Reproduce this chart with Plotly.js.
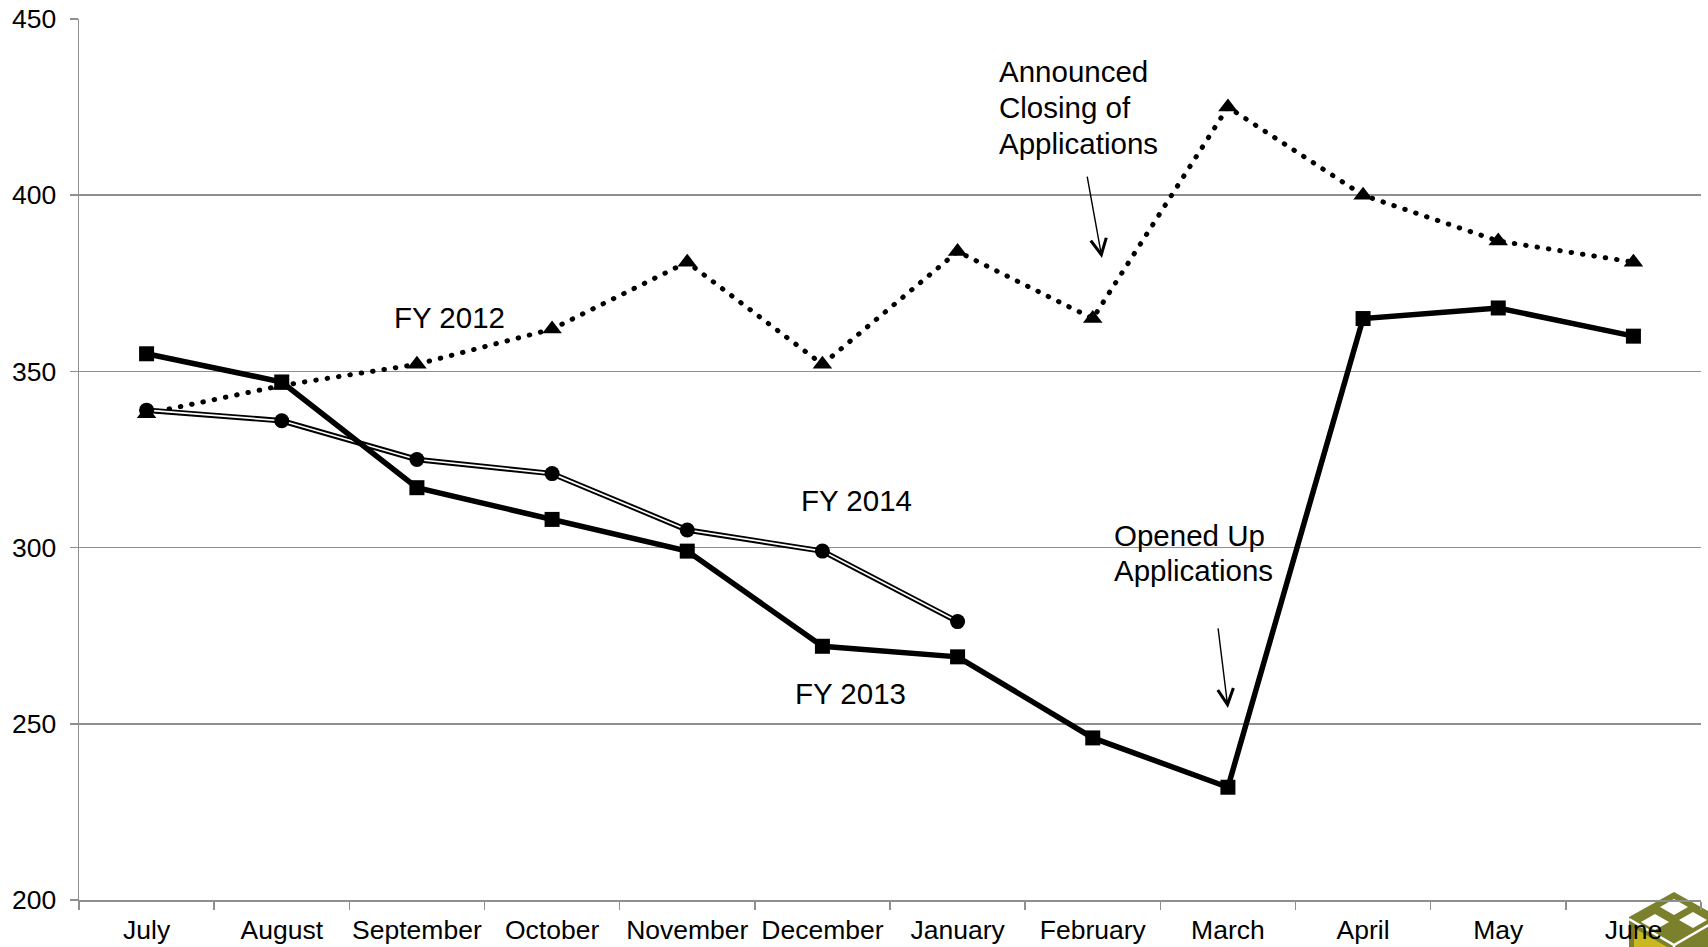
<!DOCTYPE html>
<html>
<head>
<meta charset="utf-8">
<script src="https://cdn.plot.ly/plotly-3.0.1.min.js"></script>
<style>
html,body{margin:0;padding:0;background:#fff;}
#chart{width:1708px;height:947px;}
</style>
</head>
<body>
<div id="chart"></div>
<script>
const months = ["July","August","September","October","November","December","January","February","March","April","May","June"];
const fy2012 = [338, 346, 352, 362, 381, 352, 384, 365, 425, 400, 387, 381];
const fy2013 = [355, 347, 317, 308, 299, 272, 269, 246, 232, 365, 368, 360];
const fy2014 = [339, 336, 325, 321, 305, 299, 279];
const fy2014Months = months.slice(0, fy2014.length);
const yTicks = [200, 250, 300, 350, 400, 450];
const closingNote = ["Announced", "Closing of", "Applications"];
const openedNote = ["Opened Up", "Applications"];

const FONT = "Liberation Sans, Arial, Helvetica, sans-serif";
const GRID = "#8f8f8f";

const traces = [
  {
    name: "FY 2012", x: months, y: fy2012, type: "scatter", mode: "lines+markers",
    line: {color: "#000", width: 5, dash: "0.5px,11px"},
    marker: {symbol: "triangle-up", size: 17, color: "#000"},
    showlegend: false, hoverinfo: "x+y"
  },
  {
    name: "FY 2014 outline", x: fy2014Months, y: fy2014, type: "scatter", mode: "lines",
    line: {color: "#000", width: 5.5},
    showlegend: false, hoverinfo: "skip"
  },
  {
    name: "FY 2014", x: fy2014Months, y: fy2014, type: "scatter", mode: "lines+markers",
    line: {color: "#fff", width: 1.7},
    marker: {symbol: "circle", size: 15, color: "#000"},
    showlegend: false, hoverinfo: "x+y"
  },
  {
    name: "FY 2013", x: months, y: fy2013, type: "scatter", mode: "lines+markers",
    line: {color: "#000", width: 5.5},
    marker: {symbol: "square", size: 15, color: "#000"},
    showlegend: false, hoverinfo: "x+y"
  }
];

const logoSvg =
  '<svg xmlns="http://www.w3.org/2000/svg" width="92" height="110" viewBox="0 0 92 110">' +
  '<polygon points="46,4 91,29 91,80 46,106 1,80 1,29" fill="#7b802c"/>' +
  '<polygon points="6,40 41,60 41,100 6,80" fill="#c9b81f"/>' +
  '<polyline points="1,31 46,57 91,31" fill="none" stroke="#fff" stroke-width="2.5"/>' +
  '<line x1="46" y1="57" x2="46" y2="106" stroke="#fff" stroke-width="2.5"/>' +
  '<polygon points="46,11 60,19 46,27 32,19" fill="#fff"/>' +
  '<polygon points="27,26 41,34 27,42 13,34" fill="#fff"/>' +
  '<polygon points="65,24 79,32 65,40 51,32" fill="#fff"/>' +
  '</svg>';

const annoFont = {family: FONT, size: 29.5, color: "#000"};

function leftNote(text, x, y) {
  return {text: text, x: x, y: y, xref: "x", yref: "y", xanchor: "left", align: "left",
          showarrow: false, font: annoFont};
}

const closingY = [435.0, 425.0, 414.8];
const openedY = [303.3, 293.4];

const annotations = [
  {text: "FY 2012", x: 2.24, y: 365.4, xref: "x", yref: "y", showarrow: false, font: annoFont},
  {text: "FY 2014", x: 5.25, y: 313.5, xref: "x", yref: "y", showarrow: false, font: annoFont},
  {text: "FY 2013", x: 5.21, y: 258.5, xref: "x", yref: "y", showarrow: false, font: annoFont},
  {text: "", x: 7.068, y: 382.2, ax: 6.957, ay: 405.7, xref: "x", yref: "y", axref: "x", ayref: "y",
   showarrow: true, arrowhead: 5, arrowsize: 2.2, arrowwidth: 1.4, arrowcolor: "#000", standoff: 0, startstandoff: 0},
  {text: "", x: 8.0, y: 254.5, ax: 7.926, ay: 277.5, xref: "x", yref: "y", axref: "x", ayref: "y",
   showarrow: true, arrowhead: 5, arrowsize: 2.2, arrowwidth: 1.4, arrowcolor: "#000", standoff: 0, startstandoff: 0}
];
closingNote.forEach(function (t, i) { annotations.push(leftNote(t, 6.29, closingY[i])); });
openedNote.forEach(function (t, i) { annotations.push(leftNote(t, 7.14, openedY[i])); });

const layout = {
  width: 1708, height: 947,
  paper_bgcolor: "#fff", plot_bgcolor: "#fff",
  margin: {l: 79, r: 7, t: 19, b: 47},
  font: {family: FONT, color: "#000"},
  showlegend: false,
  xaxis: {
    type: "category", categoryarray: months, categoryorder: "array",
    range: [-0.5, 11.5],
    showgrid: false, showline: true, linecolor: GRID, linewidth: 1.5,
    ticks: "outside", tickson: "boundaries", ticklen: 8, tickwidth: 1.5, tickcolor: GRID,
    tickfont: {family: FONT, size: 26.5, color: "#000"},
    tickangle: 0, automargin: false,
    ticklabelstandoff: 6,
    zeroline: false, fixedrange: true
  },
  yaxis: {
    range: [200, 450], tickvals: yTicks, ticktext: yTicks.map(String),
    showgrid: true, gridcolor: GRID, gridwidth: 1.5,
    showline: true, linecolor: GRID, linewidth: 1.5,
    ticks: "outside", ticklen: 8, tickwidth: 1.5, tickcolor: GRID,
    tickfont: {family: FONT, size: 26.5, color: "#000"},
    ticklabelstandoff: 8,
    zeroline: false, fixedrange: true
  },
  annotations: annotations,
  images: [{
    source: "data:image/svg+xml;charset=utf-8," + encodeURIComponent(logoSvg),
    xref: "paper", yref: "paper",
    x: (1628 - 79) / 1622, y: (900 - 888) / 881,
    sizex: 92 / 1622, sizey: 110 / 881,
    xanchor: "left", yanchor: "top", sizing: "stretch", layer: "below"
  }]
};

Plotly.newPlot("chart", traces, layout, {displayModeBar: false, staticPlot: true}).then(function (gd) {
  const tr = gd.querySelectorAll(".scatterlayer .trace");
  if (tr[0]) {
    tr[0].querySelectorAll("path.js-line").forEach(function (p) {
      p.style.strokeLinecap = "round";
    });
  }
});
</script>
</body>
</html>
